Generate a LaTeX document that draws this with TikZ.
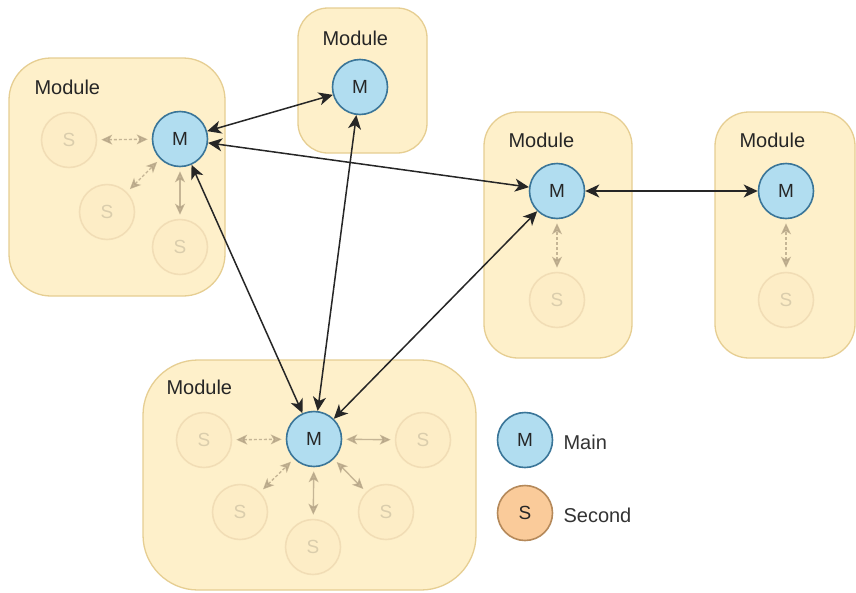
\documentclass[tikz,border=0pt]{standalone}
\usepackage{fontspec}
\setmainfont{Liberation Sans}
\usetikzlibrary{arrows.meta}
\definecolor{modfill}{HTML}{FEF0CA}
\definecolor{moddraw}{HTML}{E6CE92}
\definecolor{mainfill}{HTML}{B1DDF0}
\definecolor{maindraw}{HTML}{3A7598}
\definecolor{secfill}{HTML}{FACB9A}
\definecolor{secdraw}{HTML}{B5895A}
\definecolor{faint}{HTML}{B3A284}
\begin{document}
\begin{tikzpicture}[x=1pt,y=-1pt,
  module/.style={draw=moddraw, fill=modfill, line width=1.3pt},
  modlabel/.style={anchor=base west, font=\fontsize{20}{24}\selectfont, text=black!85},
  mainnode/.style={circle, draw=maindraw, fill=mainfill, line width=1.6pt,
    minimum size=55pt, inner sep=0pt, font=\fontsize{19}{22}\selectfont, text=black!85},
  secnode/.style={circle, draw=secdraw, fill=secfill, line width=1.6pt,
    minimum size=55pt, inner sep=0pt, font=\fontsize{19}{22}\selectfont, text=black!85},
  ghost/.style={secnode, draw opacity=0.16, fill opacity=0.08, text opacity=0.16},
  legendtext/.style={anchor=west, font=\fontsize{20}{24}\selectfont, text=black!80},
  link/.style={{Stealth[length=14pt,width=13pt,inset=4pt]}-{Stealth[length=14pt,width=13pt,inset=4pt]},
    line width=1.5pt, black!85},
  faintlink/.style={{Stealth[length=11pt,width=10pt,inset=3pt]}-{Stealth[length=11pt,width=10pt,inset=3pt]},
    line width=1.4pt, faint, opacity=0.75, shorten <=4pt, shorten >=4pt}
]
\useasboundingbox (0,0) rectangle (856,592);
\fill[white] (0,0) rectangle (856,592);

% module containers
\draw[module, rounded corners=42pt] (9,58) rectangle (225,296);
\draw[module, rounded corners=30pt] (298,8) rectangle (427,153);
\draw[module, rounded corners=34pt] (484,112) rectangle (632,358);
\draw[module, rounded corners=34pt] (715,112) rectangle (855,358);
\draw[module, rounded corners=55pt] (143,360) rectangle (476,590);

\node[modlabel] (lblA) at (31,94) {Module};
\node[modlabel] (lblB) at (319,45) {Module};
\node[modlabel] (lblC) at (505,147) {Module};
\node[modlabel] (lblD) at (736,147) {Module};
\node[modlabel] (lblE) at (163,394) {Module};

% main nodes
\node[mainnode] (mA) at (180,139) {M};
\node[mainnode] (mB) at (360,87) {M};
\node[mainnode] (mC) at (557,191) {M};
\node[mainnode] (mD) at (786,191) {M};
\node[mainnode] (mE) at (314,439) {M};

% faded secondary nodes
\node[ghost] (sA1) at (69,140) {S};
\node[ghost] (sA2) at (107,212) {S};
\node[ghost] (sA3) at (180,247) {S};
\node[ghost] (sC1) at (557,300) {S};
\node[ghost] (sD1) at (786,300) {S};
\node[ghost] (sE1) at (204,440) {S};
\node[ghost] (sE2) at (423,440) {S};
\node[ghost] (sE3) at (240,512) {S};
\node[ghost] (sE4) at (386,512) {S};
\node[ghost] (sE5) at (313,547) {S};

% links inside modules
\draw[faintlink, densely dashed] (sA1) -- (mA);
\draw[faintlink, densely dashed] (sA2) -- (mA);
\draw[faintlink] (sA3) -- (mA);
\draw[faintlink, densely dashed] (sC1) -- (mC);
\draw[faintlink, densely dashed] (sD1) -- (mD);
\draw[faintlink, densely dashed] (sE1) -- (mE);
\draw[faintlink] (sE2) -- (mE);
\draw[faintlink, densely dashed] (sE3) -- (mE);
\draw[faintlink] (sE4) -- (mE);
\draw[faintlink] (sE5) -- (mE);

% links between modules
\draw[link] (mA) -- (mB);
\draw[link] (mA) -- (mC);
\draw[link] (mA) -- (mE);
\draw[link] (mB) -- (mE);
\draw[link] (mC) -- (mE);
\draw[link] (mC) -- (mD);

% legend
\node[mainnode] (legM) at (525,440) {M};
\node[legendtext] (legMt) at (560,442) {Main};
\node[secnode] (legS) at (525,513) {S};
\node[legendtext] (legSt) at (560,515) {Second};
\end{tikzpicture}
\end{document}
